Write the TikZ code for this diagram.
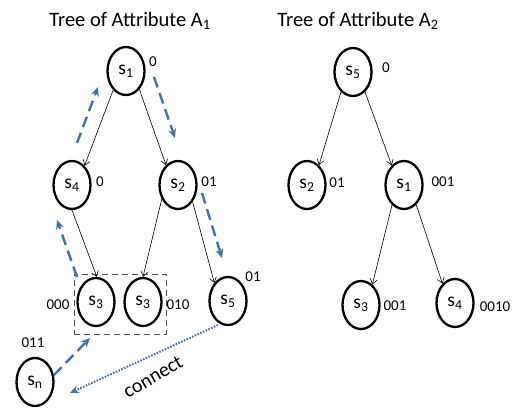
\documentclass[tikz,border=0pt]{standalone}
\usepackage{fontspec}
\setmainfont{Carlito}
\usetikzlibrary{shapes.geometric,arrows.meta}
\definecolor{flowblue}{RGB}{68,114,176}
\begin{document}
\begin{tikzpicture}[x=1pt,y=-1pt,
  site/.style={ellipse,draw,line width=2.3pt,minimum width=37pt,minimum height=48pt,
    inner sep=0pt,font=\fontsize{19.5}{21}\selectfont},
  code/.style={font=\fontsize{15}{17}\selectfont,inner sep=0pt},
  heading/.style={font=\fontsize{20.5}{23}\selectfont,inner sep=0pt},
  link/.style={-{Straight Barb[length=5pt,width=7pt]},line width=0.6pt},
  walk/.style={-{Stealth[length=9pt,width=8pt]},draw=flowblue,line width=2.4pt,
    dash pattern=on 11pt off 6pt},
  joinline/.style={-{Stealth[length=9pt,width=8pt]},draw=flowblue,line width=2pt,
    dash pattern=on 1.6pt off 1.4pt},
  group/.style={draw=black!70,line width=0.9pt,dash pattern=on 6pt off 4pt}]
\useasboundingbox (0,0) rectangle (517,408);

% headings
\node[heading] (h1) at (130,21) {Tree of Attribute A\textsubscript{1}};
\node[heading] (h2) at (358,21) {Tree of Attribute A\textsubscript{2}};

% tree of attribute A1
\node[site] (a1) at (126,71) {s\textsubscript{1}};
\node[site] (a4) at (72,185) {s\textsubscript{4}};
\node[site] (a2) at (178,185) {s\textsubscript{2}};
\node[site] (a3) at (96,302) {s\textsubscript{3}};
\node[site] (a3b) at (143,302) {s\textsubscript{3}};
\node[site] (a5) at (228,301) {s\textsubscript{5}};
\node[site] (an) at (35,382) {s\textsubscript{n}};

\node[code] (c1) at (153,62) {0};
\node[code] (c4) at (100,182) {0};
\node[code] (c2) at (209,182) {01};
\node[code] (c3) at (58,305) {000};
\node[code] (c3b) at (178,305) {010};
\node[code] (c5) at (253,277) {01};
\node[code] (cn) at (33,343) {011};

\draw[link] (a1.-124) -- (a4.57);
\draw[link] (a1.-54) -- (a2.121);
\draw[link] (a4.-90) -- (a3.88);
\draw[link] (a2.-139) -- (a3b.90);
\draw[link] (a2.-49) -- (a5.127);

% dashed group around the two copies of s3
\node[group,inner sep=0pt,minimum width=92pt,minimum height=60pt] (box) at (120,304) {};

% traversal path
\coordinate (p1) at (77,143);  \coordinate (q1) at (98,87);
\coordinate (p2) at (154,77);  \coordinate (q2) at (175,138);
\coordinate (p3) at (202,193); \coordinate (q3) at (222,258);
\coordinate (p4) at (77,277);  \coordinate (q4) at (57,220);
\coordinate (q5) at (90,338);
\draw[walk] (p1) -- (q1);
\draw[walk] (p2) -- (q2);
\draw[walk] (p3) -- (q3);
\draw[walk] (p4) -- (q4);
\draw[walk] (an.20) -- (q5);

\coordinate (j1) at (218,325);
\coordinate (j2) at (70,393);
\draw[joinline] (j1) -- (j2);
\node[font=\fontsize{20}{22}\selectfont,rotate=30,inner sep=0pt] (conn) at (153,377) {connect};

% tree of attribute A2
\node[site] (b5) at (353,72) {s\textsubscript{5}};
\node[site] (b2) at (307,185) {s\textsubscript{2}};
\node[site] (b1) at (404,185) {s\textsubscript{1}};
\node[site] (b3) at (361,305) {s\textsubscript{3}};
\node[site] (b4) at (455,303) {s\textsubscript{4}};

\node[code] (d5) at (386,68) {0};
\node[code] (d2) at (337,183) {01};
\node[code] (d1) at (443,182) {001};
\node[code] (d3) at (395,306) {001};
\node[code] (d4) at (495,307) {0010};

\draw[link] (b5.-121) -- (b2.59);
\draw[link] (b5.-59) -- (b1.122);
\draw[link] (b1.-121) -- (b3.61);
\draw[link] (b1.-58) -- (b4.123);
\end{tikzpicture}
\end{document}
